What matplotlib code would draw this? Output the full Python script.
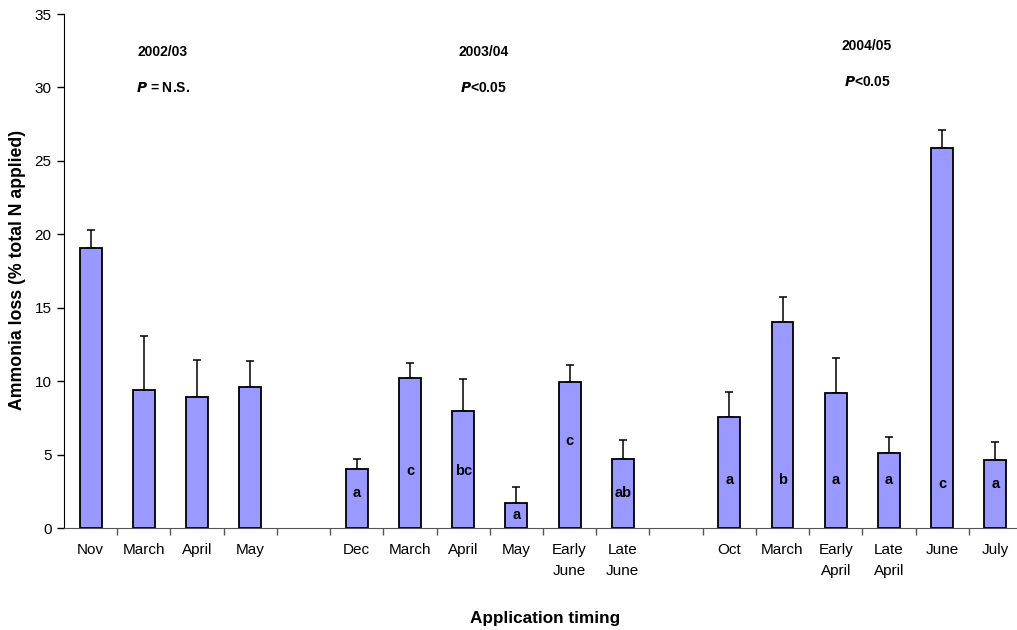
import numpy as np
import matplotlib
matplotlib.use("Agg")
import matplotlib.pyplot as plt

plt.rcParams['font.family'] = ['Liberation Sans', 'DejaVu Sans']

# Category labels per slot (empty strings are the gaps between seasons)
labels = ["Nov", "March", "April", "May", "",
          "Dec", "March", "April", "May", "Early\nJune", "Late\nJune", "",
          "Oct", "March", "Early\nApril", "Late\nApril", "June", "July"]

# Ammonia loss (% of total N applied) and standard error per slot (NaN = gap)
loss = [19.07, 9.40, 8.90, 9.61, np.nan,
        4.02, 10.22, 7.94, 1.69, 9.91, 4.72, np.nan,
        7.54, 14.00, 9.21, 5.12, 25.86, 4.63]
se = [1.25, 3.68, 2.56, 1.78, np.nan,
      0.70, 1.03, 2.21, 1.11, 1.22, 1.29, np.nan,
      1.72, 1.76, 2.39, 1.06, 1.25, 1.20]

# Significance letters and their heights within the bars
letters = ["", "", "", "", "",
           "a", "c", "bc", "a", "c", "ab", "",
           "a", "b", "a", "a", "c", "a"]
letter_y = [0, 0, 0, 0, 0,
            2.4, 3.9, 3.9, 0.87, 5.94, 2.4, 0,
            3.27, 3.27, 3.27, 3.27, 2.98, 2.98]

seasons = ["2002/03", "2003/04", "2004/05"]
season_p = ["$\\bfit{P}$ = N.S.", "$\\bfit{P}$<0.05", "$\\bfit{P}$<0.05"]
season_x = [1.36, 7.38, 14.59]
season_y = [32.4, 32.4, 32.8]
p_y = [29.95, 29.95, 30.4]

fig = plt.figure(figsize=(10.17, 6.30), dpi=100)
ax = fig.add_axes([64 / 1017, 1 - 528 / 630, 958 / 1017, (528 - 14) / 630])

x = np.arange(len(labels))
vals = np.array(loss, dtype=float)
errs = np.array(se, dtype=float)
mask = ~np.isnan(vals)

ax.bar(x[mask], vals[mask], width=0.41, color="#9999FF", edgecolor="black",
       linewidth=1.3, zorder=2)
ax.errorbar(x[mask], vals[mask], yerr=[np.zeros(mask.sum()), errs[mask]],
            fmt="none", ecolor="black", elinewidth=1.1, capsize=3,
            capthick=1.1, zorder=1)

for xi, lt, ly in zip(x, letters, letter_y):
    if lt:
        ax.text(xi, ly, lt, ha="center", va="center", fontsize=10.5,
                fontweight="bold", zorder=3)

for sx, sname, sy, pt, py in zip(season_x, seasons, season_y, season_p, p_y):
    ax.text(sx, sy, sname, ha="center", va="center", fontsize=10,
            fontweight="bold")
    ax.text(sx, py, pt, ha="center", va="center", fontsize=10,
            fontweight="bold")

ax.set_xlim(-0.5, len(labels) - 0.5)
ax.set_ylim(0, 35)
ax.set_yticks(np.arange(0, 36, 5))
ax.tick_params(axis="y", direction="out", length=5, width=1, pad=4,
               labelsize=11)

# Major x ticks mark slot boundaries; labels sit on minor ticks at centres
ax.set_xticks(np.arange(0.5, len(labels) - 0.5, 1.0))
ax.set_xticklabels([])
ax.set_xticks(x, minor=True)
ax.set_xticklabels(labels, minor=True, fontsize=11, linespacing=1.6)
ax.tick_params(axis="x", which="major", direction="out", length=5, width=1,
               color="#555555")
ax.tick_params(axis="x", which="minor", length=0, pad=11)
for t in ax.get_xticklabels(minor=True):
    t.set_verticalalignment("top")

ax.spines["top"].set_visible(False)
ax.spines["right"].set_visible(False)
ax.spines["bottom"].set_color("#555555")
ax.spines["left"].set_color("black")

fig.text(18 / 1017, 1 - 270 / 630, "Ammonia loss (% total N applied)",
         rotation=90, ha="center", va="center", fontsize=12.7,
         fontweight="bold")
fig.text(545 / 1017, 1 - 618 / 630, "Application timing", ha="center",
         va="center", fontsize=12.3, fontweight="bold")

fig.savefig("out.png", dpi=100)
